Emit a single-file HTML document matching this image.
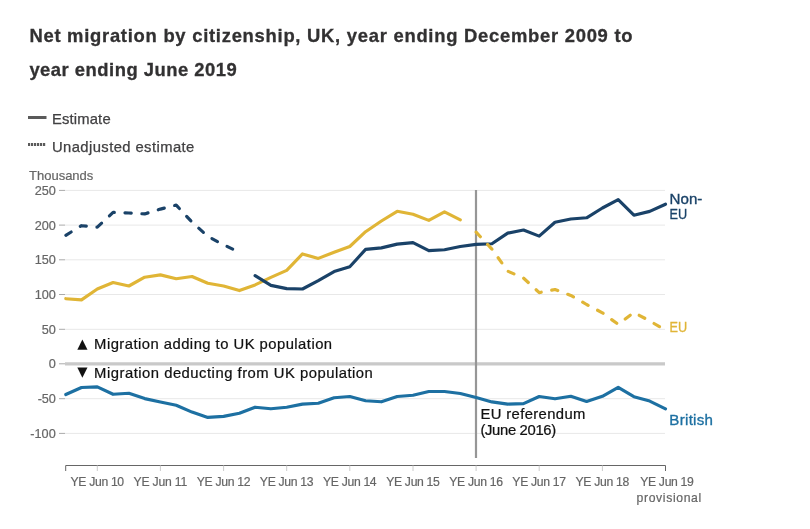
<!DOCTYPE html>
<html lang="en">
<head>
<meta charset="utf-8">
<title>Net migration by citizenship, UK</title>
<style>
html,body{margin:0;padding:0;background:#fff;}
body{width:810px;height:529px;overflow:hidden;position:relative;font-family:"Liberation Sans",sans-serif;}
#wrap{position:absolute;left:0;top:0;width:810px;height:529px;}
h2{position:absolute;left:29.4px;top:19px;margin:0;font-size:18.4px;line-height:34px;font-weight:bold;color:#323132;-webkit-text-stroke:0.3px #323132;width:640px;letter-spacing:0.0px;white-space:nowrap;}
.leg{position:absolute;left:29px;font-size:14.8px;color:#414042;white-space:nowrap;height:20px;line-height:20px;-webkit-text-stroke:0.25px #414042;}
.leg span.t{position:absolute;left:23px;top:0;}
.leg svg{position:absolute;left:-0.6px;top:0;}
svg text{font-family:"Liberation Sans",sans-serif;}
.tk{font-size:12.7px;fill:#666;stroke:#666;stroke-width:0.2px;}
.xk{font-size:12.2px;}
.an{font-size:14.8px;fill:#111;stroke:#111;stroke-width:0.22px;}
.lb{font-size:15.1px;stroke-width:0.35px;}
</style>
</head>
<body>
<div id="wrap">
<h2><span id="t1" style="letter-spacing:0.74px">Net migration by citizenship, UK, year ending December 2009 to</span><br><span id="t2" style="letter-spacing:0.5px">year ending June 2019</span></h2>
<div class="leg" style="top:109px"><svg width="20" height="20"><line x1="0" x2="18.5" y1="8.5" y2="8.5" stroke="#5a5a5a" stroke-width="3"/></svg><span class="t" id="l1" style="letter-spacing:0.15px">Estimate</span></div>
<div class="leg" style="top:137px"><svg width="20" height="20"><line x1="0" x2="18" y1="7.5" y2="7.5" stroke="#5a5a5a" stroke-width="3" stroke-dasharray="2.2 0.8"/></svg><span class="t" id="l2" style="letter-spacing:0.41px">Unadjusted estimate</span></div>
<svg id="chart" width="810" height="529" viewBox="0 0 810 529" style="position:absolute;left:0;top:0">
<text x="29.1" y="179.5" class="tk" style="font-size:13px" textLength="64.2" lengthAdjust="spacing">Thousands</text>
<g id="grid">
<line x1="65" x2="665" y1="190.4" y2="190.4" stroke="#e8e8e8" stroke-width="1"/>
<line x1="65" x2="665" y1="225.1" y2="225.1" stroke="#e8e8e8" stroke-width="1"/>
<line x1="65" x2="665" y1="259.8" y2="259.8" stroke="#e8e8e8" stroke-width="1"/>
<line x1="65" x2="665" y1="294.5" y2="294.5" stroke="#e8e8e8" stroke-width="1"/>
<line x1="65" x2="665" y1="329.3" y2="329.3" stroke="#e8e8e8" stroke-width="1"/>
<line x1="65" x2="665" y1="398.7" y2="398.7" stroke="#e8e8e8" stroke-width="1"/>
<line x1="65" x2="665" y1="433.4" y2="433.4" stroke="#e8e8e8" stroke-width="1"/>
</g>
<line x1="65" x2="665" y1="363.8" y2="363.8" stroke="#c9c9c9" stroke-width="3.15"/>
<g id="yaxis">
<line x1="59" x2="65" y1="190.4" y2="190.4" stroke="#aaa" stroke-width="1"/>
<text x="55.8" y="195.0" text-anchor="end" class="tk" textLength="21.1" lengthAdjust="spacing">250</text>
<line x1="59" x2="65" y1="225.1" y2="225.1" stroke="#aaa" stroke-width="1"/>
<text x="55.8" y="229.7" text-anchor="end" class="tk" textLength="21.1" lengthAdjust="spacing">200</text>
<line x1="59" x2="65" y1="259.8" y2="259.8" stroke="#aaa" stroke-width="1"/>
<text x="55.8" y="264.4" text-anchor="end" class="tk" textLength="21.1" lengthAdjust="spacing">150</text>
<line x1="59" x2="65" y1="294.5" y2="294.5" stroke="#aaa" stroke-width="1"/>
<text x="55.8" y="299.1" text-anchor="end" class="tk" textLength="21.1" lengthAdjust="spacing">100</text>
<line x1="59" x2="65" y1="329.3" y2="329.3" stroke="#aaa" stroke-width="1"/>
<text x="55.8" y="333.9" text-anchor="end" class="tk" textLength="14.0" lengthAdjust="spacing">50</text>
<line x1="59" x2="65" y1="363.8" y2="363.8" stroke="#aaa" stroke-width="1"/>
<text x="55.8" y="368.4" text-anchor="end" class="tk" textLength="7.0" lengthAdjust="spacing">0</text>
<line x1="59" x2="65" y1="398.7" y2="398.7" stroke="#aaa" stroke-width="1"/>
<text x="55.8" y="403.3" text-anchor="end" class="tk" textLength="18.1" lengthAdjust="spacing">-50</text>
<line x1="59" x2="65" y1="433.4" y2="433.4" stroke="#aaa" stroke-width="1"/>
<text x="55.8" y="438.0" text-anchor="end" class="tk" textLength="25.6" lengthAdjust="spacing">-100</text>
</g>
<line x1="476" x2="476" y1="190" y2="458" stroke="#969696" stroke-width="2.2"/>
<g id="series" fill="none" stroke-width="3.15" stroke-linejoin="round" stroke-linecap="round">
<path d="M65.8,298.7L81.5,299.9L97.3,289.0L113.1,282.5L128.9,286.0L144.7,277.2L160.4,274.9L176.2,278.7L192.0,276.5L207.8,283.3L223.6,286.0L239.4,290.6L255.1,284.9L270.9,277.4L286.7,270.4L302.5,253.9L318.3,258.4L334.1,252.3L349.8,246.5L365.6,231.7L381.4,221.0L397.2,211.3L413.0,214.3L428.8,220.4L444.5,211.9L460.3,219.8" stroke="#e0b536"/>
<path d="M255.1,275.6L270.9,285.4L286.7,288.6L302.5,289.0L318.3,280.6L334.1,271.6L349.8,266.8L365.6,249.4L381.4,247.9L397.2,244.1L413.0,242.6L428.8,250.6L444.5,249.7L460.3,246.5L476.1,244.4L491.9,243.7L507.7,233.1L523.5,230.0L539.2,236.1L555.0,222.3L570.8,219.0L586.6,217.8L602.4,208.0L618.2,199.6L633.9,215.2L649.7,211.4L665.5,204.2" stroke="#1a4268"/>
<path d="M65.8,235.3L81.5,225.7L97.3,227.2L113.1,212.4L128.9,213.0L144.7,213.9L160.4,209.1L176.2,205.1L192.0,222.1L207.8,236.4L223.6,244.8L239.4,252.3" stroke="#1a4268" stroke-dasharray="6.3 10.65"/>
<path d="M476.1,232.1L491.9,249.1L507.7,271.1L523.5,278.1L539.2,292.6L555.0,289.5L570.8,295.4L586.6,304.5L602.4,312.8L618.2,324.4L633.9,312.4L649.7,320.9L665.5,330.3" stroke="#e0b536" stroke-dasharray="6.3 10.65"/>
<path d="M65.8,394.5L81.5,387.5L97.3,386.9L113.1,394.3L128.9,393.3L144.7,398.6L160.4,402.0L176.2,405.2L192.0,412.1L207.8,417.4L223.6,416.4L239.4,413.3L255.1,407.2L270.9,408.8L286.7,407.2L302.5,404.1L318.3,403.3L334.1,397.8L349.8,396.5L365.6,400.8L381.4,401.8L397.2,396.5L413.0,395.2L428.8,391.5L444.5,391.5L460.3,393.5L476.1,397.5L491.9,401.9L507.7,404.1L523.5,403.6L539.2,396.5L555.0,398.8L570.8,396.3L586.6,401.5L602.4,396.3L618.2,387.4L633.9,396.7L649.7,401.1L665.5,408.8" stroke="#1d70a2"/>
</g>
<g id="xaxis">
<path d="M65.7,471V465.5H665.5V471" fill="none" stroke="#666" stroke-width="1"/>
<line x1="97.3" x2="97.3" y1="465.5" y2="471" stroke="#ccc" stroke-width="1"/>
<text x="97.3" y="485.8" text-anchor="middle" class="tk xk" textLength="53.7" lengthAdjust="spacing">YE Jun 10</text>
<line x1="160.4" x2="160.4" y1="465.5" y2="471" stroke="#ccc" stroke-width="1"/>
<text x="160.4" y="485.8" text-anchor="middle" class="tk xk" textLength="53.7" lengthAdjust="spacing">YE Jun 11</text>
<line x1="223.6" x2="223.6" y1="465.5" y2="471" stroke="#ccc" stroke-width="1"/>
<text x="223.6" y="485.8" text-anchor="middle" class="tk xk" textLength="53.7" lengthAdjust="spacing">YE Jun 12</text>
<line x1="286.7" x2="286.7" y1="465.5" y2="471" stroke="#ccc" stroke-width="1"/>
<text x="286.7" y="485.8" text-anchor="middle" class="tk xk" textLength="53.7" lengthAdjust="spacing">YE Jun 13</text>
<line x1="349.8" x2="349.8" y1="465.5" y2="471" stroke="#ccc" stroke-width="1"/>
<text x="349.8" y="485.8" text-anchor="middle" class="tk xk" textLength="53.7" lengthAdjust="spacing">YE Jun 14</text>
<line x1="413.0" x2="413.0" y1="465.5" y2="471" stroke="#ccc" stroke-width="1"/>
<text x="413.0" y="485.8" text-anchor="middle" class="tk xk" textLength="53.7" lengthAdjust="spacing">YE Jun 15</text>
<line x1="476.1" x2="476.1" y1="465.5" y2="471" stroke="#ccc" stroke-width="1"/>
<text x="476.1" y="485.8" text-anchor="middle" class="tk xk" textLength="53.7" lengthAdjust="spacing">YE Jun 16</text>
<line x1="539.2" x2="539.2" y1="465.5" y2="471" stroke="#ccc" stroke-width="1"/>
<text x="539.2" y="485.8" text-anchor="middle" class="tk xk" textLength="53.7" lengthAdjust="spacing">YE Jun 17</text>
<line x1="602.4" x2="602.4" y1="465.5" y2="471" stroke="#ccc" stroke-width="1"/>
<text x="602.4" y="485.8" text-anchor="middle" class="tk xk" textLength="53.7" lengthAdjust="spacing">YE Jun 18</text>
<text x="667.0" y="485.8" text-anchor="middle" class="tk xk" textLength="53.7" lengthAdjust="spacing">YE Jun 19</text>
<text x="668.9" y="501.9" text-anchor="middle" class="tk xk" textLength="64.7" lengthAdjust="spacing">provisional</text>
</g>
<g id="annot">
<text x="77.2" y="349.2" class="an"><tspan style="font-size:13.4px;font-family:'DejaVu Sans',sans-serif;stroke:none" dy="-1.3">▲</tspan><tspan x="94.1" dy="1.3" textLength="238" lengthAdjust="spacing">Migration adding to UK population</tspan></text>
<text x="77.2" y="377.6" class="an"><tspan style="font-size:13.4px;font-family:'DejaVu Sans',sans-serif;stroke:none" dy="-1.3">▼</tspan><tspan x="94.1" dy="1.3" textLength="278.7" lengthAdjust="spacing">Migration deducting from UK population</tspan></text>
<text x="480.4" y="418.6" class="an" textLength="105" lengthAdjust="spacing">EU referendum</text>
<text x="480.4" y="434.8" class="an" textLength="75.8" lengthAdjust="spacing">(June 2016)</text>
</g>
<g id="labels">
<text x="669.6" y="203.5" class="lb" fill="#1a4268" stroke="#1a4268" textLength="32.7" lengthAdjust="spacing">Non-</text>
<text x="669.6" y="219.4" class="lb" fill="#1a4268" stroke="#1a4268" textLength="17.6" lengthAdjust="spacingAndGlyphs">EU</text>
<text x="669.6" y="332" class="lb" fill="#e0b536" stroke="#e0b536" textLength="17.6" lengthAdjust="spacingAndGlyphs">EU</text>
<text x="669.3" y="425.3" class="lb" fill="#1d70a2" stroke="#1d70a2" textLength="43.7" lengthAdjust="spacing">British</text>
</g>
</svg>
</div>
</body>
</html>
